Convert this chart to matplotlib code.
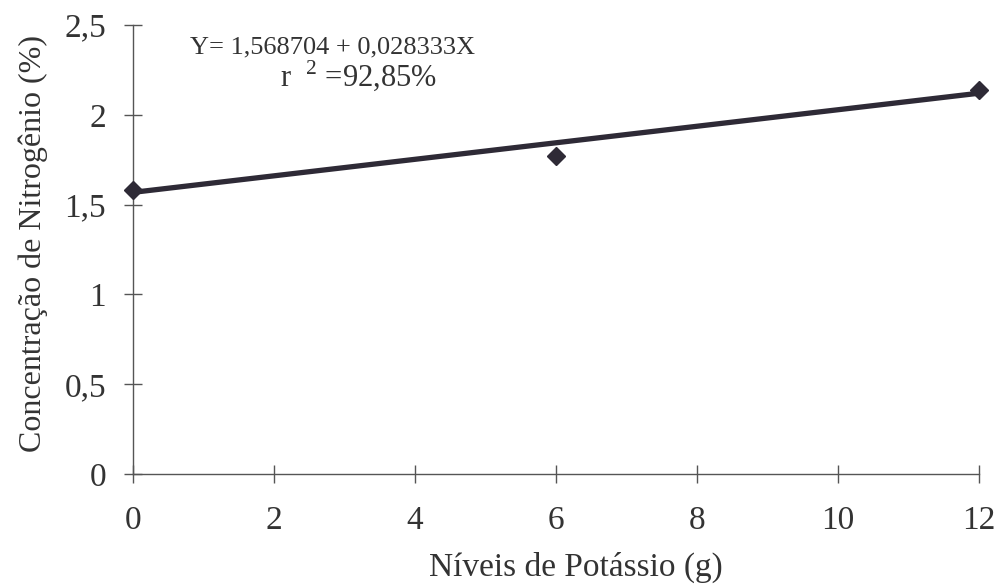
"""
plot.py

Nitrogen concentration vs potassium levels, with linear fit.
"""

import matplotlib
matplotlib.use("Agg")
import matplotlib.pyplot as plt

# Data
potassio = [0, 6, 12]
nitrogenio = [1.58, 1.77, 2.14]

# Fitted line end points
fit_x = [0, 12]
fit_y = [1.568, 2.12]

x_ticks = [0, 2, 4, 6, 8, 10, 12]
y_ticks = [0, 0.5, 1, 1.5, 2, 2.5]
y_tick_labels = ["0", "0,5", "1", "1,5", "2", "2,5"]

equation = "Y= 1,568704 + 0,028333X"
r2_text = r"r  $^{2}$ =92,85%"

plt.rcParams['font.family'] = ['Liberation Serif', 'DejaVu Serif']
plt.rcParams['mathtext.fontset'] = 'custom'
plt.rcParams['mathtext.rm'] = 'Liberation Serif'

ink = "#2e2a36"
text_color = "#333333"

fig = plt.figure(figsize=(9.97, 5.87), dpi=100)
ax = fig.add_axes([0.1334, 0.1925, 0.8486, 0.765])

ax.plot(fit_x, fit_y, color=ink, linewidth=3.8, solid_capstyle='round', zorder=2)
ax.plot(potassio, nitrogenio, linestyle='none', marker='D', markersize=9,
        color=ink, zorder=3, clip_on=False)

ax.set_xlim(0, 12)
ax.set_ylim(0, 2.5)
ax.set_xticks(x_ticks)
ax.set_xticklabels([str(t) for t in x_ticks])
ax.set_yticks(y_ticks)
ax.set_yticklabels(y_tick_labels)

for side in ("top", "right"):
    ax.spines[side].set_visible(False)
for side in ("left", "bottom"):
    ax.spines[side].set_color("#555555")
    ax.spines[side].set_linewidth(1.0)

ax.tick_params(axis='both', direction='inout', length=13, width=1.0,
               color="#555555", labelsize=24, labelcolor=text_color)
ax.tick_params(axis='x', pad=16)
ax.tick_params(axis='y', pad=13)

ax.set_xlabel("Níveis de Potássio (g)", fontsize=24, color=text_color)
ax.xaxis.label.set_va('center')
ax.xaxis.set_label_coords(0.524, -0.209)
ax.set_ylabel("Concentração de Nitrogênio (%)", fontsize=23, color=text_color)
ax.yaxis.label.set_va('center')
ax.yaxis.set_label_coords(-0.118, 0.514)

ax.text(0.81, 2.375, equation, fontsize=19, color=text_color, ha='left', va='center')
ax.text(2.08, 2.22, r2_text, fontsize=22, color=text_color, ha='left', va='center')

fig.savefig("out.png", dpi=100)
